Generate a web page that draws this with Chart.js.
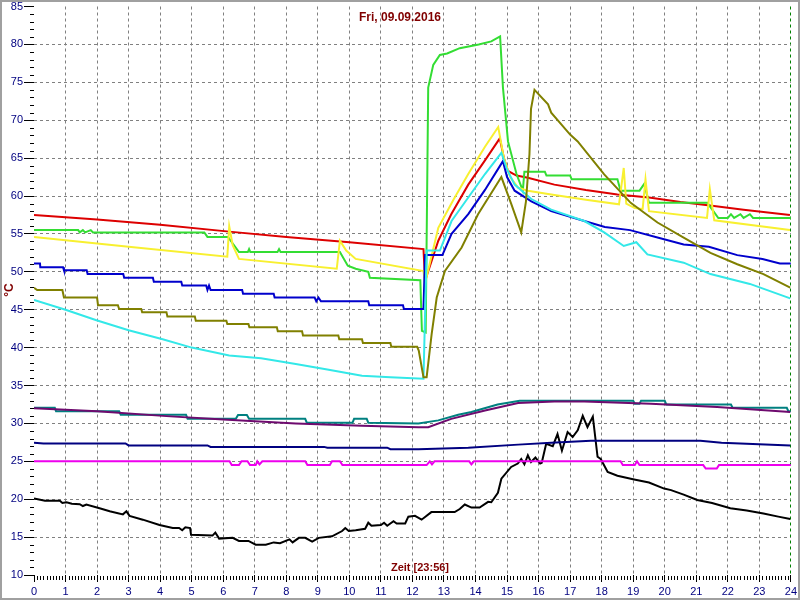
<!DOCTYPE html>
<html>
<head>
<meta charset="utf-8">
<script src="https://cdn.jsdelivr.net/npm/chart.js@4"></script>
<style>
  body { margin: 0; background: #fff; }
  #tempChart { display: block; }
</style>
</head>
<body>
<canvas id="tempChart" width="800" height="600"></canvas>
<script>
// Fri, 09.09.2016 - temperatures over the day, [hour, °C]
const hours = [0, 1, 2, 3, 4, 5, 6, 7, 8, 9, 10, 11, 12, 13, 14, 15, 16, 17, 18, 19, 20, 21, 22, 23, 24];
const yTicks = [10, 15, 20, 25, 30, 35, 40, 45, 50, 55, 60, 65, 70, 75, 80, 85];

const red = [[0,57.5],[2,56.9],[4,56.2],[6.19,55.3],[8,54.6],[10,53.9],[12.35,53.0],[12.4,48.8],[12.82,54.1],[13.23,57.6],[13.77,61.5],[14.3,64.7],[14.77,67.6],[14.9,65],[15.03,63.3],[15.3,62.7],[15.66,62.4],[16.5,61.5],[17.5,60.8],[18.5,60.2],[19.5,59.8],[20.5,59.2],[21.5,58.7],[22.5,58.2],[23.97,57.5]];

const green = [[0,55.5],[1.4,55.5],[1.45,55.2],[1.55,55.5],[1.62,55.2],[1.8,55.5],[1.87,55.2],[5.4,55.2],[5.5,54.6],[6.15,54.6],[6.5,52.6],[6.78,52.6],[6.82,53.0],[6.86,52.6],[7.72,52.6],[7.77,53.0],[7.82,52.6],[9.7,52.6],[9.95,50.8],[10.2,50.4],[10.6,50.0],[10.65,49.2],[12.25,48.9],[12.3,42.2],[12.42,42.0],[12.5,74.3],[12.66,77.3],[12.87,78.6],[13.1,78.8],[13.5,79.5],[14.1,80.0],[14.5,80.4],[14.78,81.05],[14.87,74.3],[15.03,67.2],[15.3,62.9],[15.5,60.7],[15.55,63.2],[16.2,63.2],[16.25,62.7],[17.0,62.7],[17.05,62.2],[18.5,62.2],[18.6,60.7],[19.2,60.7],[19.35,61.6],[19.5,59.1],[21.35,59.1],[21.7,57.1],[22.0,57.1],[22.1,57.6],[22.2,57.1],[22.4,57.6],[22.5,57.1],[22.7,57.6],[22.8,57.1],[24,57.1]];

const yellow = [[0,54.6],[3,53.3],[6.13,52.0],[6.19,56.0],[6.3,53.5],[6.5,51.7],[9.6,50.4],[9.7,54.1],[9.9,52.8],[10.2,51.7],[12.35,50.1],[12.4,48.5],[12.82,55.8],[13.3,59.5],[13.77,62.9],[14.3,66.5],[14.72,69.1],[14.9,65],[15.1,62.5],[15.35,61.1],[15.66,60.7],[16.4,60.2],[17.5,59.5],[18.55,58.9],[18.7,63.7],[18.78,59],[19.05,58.4],[19.3,58.3],[19.39,62.2],[19.5,58.0],[21.34,57.1],[21.43,60.9],[21.57,56.8],[23.97,55.5]];

const blue = [[0,51.1],[0.19,51.1],[0.2,50.6],[0.92,50.6],[0.95,50.2],[1.67,50.2],[1.7,49.7],[2.83,49.7],[2.86,49.2],[3.77,49.2],[3.8,48.7],[4.67,48.7],[4.7,48.2],[5.46,48.2],[5.5,47.6],[5.55,48.2],[5.6,47.6],[6.6,47.6],[6.63,47.1],[7.6,47.1],[7.63,46.6],[8.9,46.6],[8.95,46.1],[9.02,46.6],[9.1,46.1],[10.6,46.1],[10.63,45.6],[11.7,45.6],[11.73,45.1],[12.35,45.1],[12.4,52.2],[12.95,52.2],[13.24,55.0],[13.77,57.6],[14.3,60.8],[14.87,64.6],[15.0,62.5],[15.24,60.7],[15.77,59.3],[16.4,58.0],[17.45,56.7],[18.1,55.9],[18.9,55.5],[19.8,54.5],[20.6,53.6],[21.4,53.3],[22.3,52.2],[23.1,51.7],[23.65,51.1],[24,51.1]];

const cyan = [[0,46.3],[1,45],[1.98,43.6],[3,42.3],[4.08,41.1],[5,40],[6.19,38.95],[7.2,38.6],[8.3,37.85],[9.3,37.1],[10.4,36.3],[11.3,36.1],[12.35,35.9],[12.45,52.8],[12.87,52.8],[13.24,56.7],[13.77,59.8],[14.3,62.9],[14.82,65.7],[15.0,63.5],[15.24,61.5],[15.77,59.6],[16.4,58.2],[17.45,56.7],[18.08,55.2],[18.7,53.4],[19.1,53.9],[19.45,52.3],[20.6,51.2],[21.45,49.7],[22.7,48.4],[23.98,46.5]];

const olive = [[0,47.9],[0.1,47.6],[0.9,47.6],[0.95,46.6],[2.0,46.6],[2.03,45.6],[2.66,45.6],[2.7,45.1],[3.4,45.1],[3.43,44.65],[4.2,44.65],[4.23,44.1],[5.1,44.1],[5.13,43.55],[6.1,43.55],[6.13,43.1],[6.8,43.1],[6.83,42.7],[7.7,42.7],[7.73,42.15],[8.5,42.15],[8.53,41.6],[9.65,41.6],[9.68,41.1],[10.4,41.1],[10.43,40.6],[11.3,40.6],[11.33,40.1],[12.15,40.1],[12.2,39.6],[12.35,36.1],[12.45,36.1],[12.61,41.8],[12.77,46.6],[13.03,50.1],[13.56,53.2],[14.08,57.6],[14.82,62.5],[15.13,59.0],[15.45,55.2],[15.6,59.3],[15.71,65.5],[15.76,71.5],[15.87,74.0],[16.3,72.1],[16.4,71.0],[17.0,68.1],[17.24,67.2],[18.08,62.85],[18.92,59.1],[19.77,56.5],[20.6,54.5],[21.45,52.5],[22.3,51.0],[23.13,49.7],[23.98,47.9]];

const teal = [[0,32.06],[0.66,32.06],[0.7,31.6],[2.7,31.6],[2.75,31.15],[4.82,31.15],[4.87,30.6],[6.4,30.6],[6.47,31.1],[6.75,31.1],[6.82,30.6],[8.6,30.6],[8.65,30.1],[10.1,30.1],[10.15,30.6],[10.55,30.6],[10.6,30.1],[12.19,30.0],[12.82,30.4],[13.45,31.15],[13.87,31.5],[14.7,32.5],[15.4,33.0],[19.0,33.0],[19.05,32.6],[19.2,32.6],[19.25,33.0],[20.0,33.0],[20.05,32.5],[22.1,32.5],[22.15,32.06],[23.87,32.06],[23.92,31.6],[24,31.6]];

const purple = [[0,32.0],[1,31.8],[2,31.6],[4.2,30.96],[6,30.5],[8.3,30.0],[10.4,29.7],[12.19,29.5],[12.5,29.5],[13.23,30.6],[14.3,31.7],[15.35,32.7],[16.5,32.9],[17.45,32.9],[19.56,32.6],[21.66,32.15],[23.98,31.5]];

const navy = [[0,27.45],[0.3,27.35],[2.9,27.35],[3,27.1],[5.5,27.1],[5.6,26.9],[9.2,26.9],[9.3,26.8],[11.2,26.8],[11.3,26.6],[12.19,26.6],[13.77,26.8],[15.35,27.2],[16.4,27.45],[17.66,27.7],[21.13,27.7],[21.8,27.45],[23.98,27.1]];

const magenta = [[0,25],[6.2,25],[6.27,24.5],[6.5,24.5],[6.58,25],[6.77,25],[6.85,24.5],[7.03,24.5],[7.08,25],[7.15,24.6],[7.24,25],[8.6,25],[8.67,24.5],[9.38,24.5],[9.45,25],[9.7,25],[9.78,24.5],[12.45,24.5],[12.55,25],[12.62,24.6],[12.7,25],[13.8,25],[13.87,24.6],[13.95,25],[18.6,25],[18.67,24.5],[19.05,24.5],[19.12,25],[19.2,24.5],[21.22,24.5],[21.3,24.05],[21.65,24.05],[21.72,24.5],[24,24.5]];

const black = [[0,20.1],[0.35,19.8],[0.82,19.8],[0.9,19.5],[1.03,19.6],[1.2,19.4],[1.45,19.35],[1.55,19.1],[1.66,19.3],[2.08,18.8],[2.4,18.4],[2.82,18.0],[2.93,18.4],[3.03,17.8],[3.45,17.3],[3.98,16.6],[4.4,16.2],[4.6,16.2],[4.7,15.9],[4.8,16.3],[4.95,16.2],[4.98,15.3],[5.66,15.2],[5.75,15.6],[5.87,14.8],[6.3,14.9],[6.5,14.5],[6.8,14.5],[7.03,14.0],[7.35,14.0],[7.6,14.3],[7.8,14.2],[8.1,14.7],[8.2,14.3],[8.4,14.9],[8.6,14.9],[8.82,14.4],[9.03,14.9],[9.45,15.1],[9.77,15.8],[9.87,16.2],[9.98,15.8],[10.2,15.9],[10.5,16.1],[10.6,16.9],[10.7,16.5],[11.0,16.6],[11.1,16.9],[11.2,16.5],[11.4,17.1],[11.5,16.8],[11.77,16.8],[11.87,17.7],[12.08,17.8],[12.29,17.3],[12.6,18.3],[13.34,18.3],[13.5,18.7],[13.66,19.3],[13.87,18.9],[14.13,18.9],[14.4,19.65],[14.5,19.6],[14.71,20.85],[14.82,22.7],[15.13,24.25],[15.34,24.7],[15.45,25.3],[15.55,24.6],[15.66,25.8],[15.76,24.9],[15.9,25.5],[16.05,24.7],[16.1,24.8],[16.24,27.3],[16.45,27.0],[16.6,28.6],[16.74,26.4],[16.92,28.86],[17.08,28.2],[17.24,29.1],[17.4,31.0],[17.55,29.5],[17.72,30.9],[17.87,25.6],[17.97,25.3],[18.19,23.6],[18.5,23.1],[19.03,22.6],[19.5,22.2],[19.98,21.4],[20.2,21.2],[20.6,20.6],[21.03,19.9],[21.5,19.5],[22.08,18.8],[22.6,18.5],[23.13,18.1],[23.6,17.7],[23.98,17.4]];

const darkRed = '#800000';
const navyText = '#000080';

function line(data, color) {
  return { data: data, borderColor: color, borderWidth: 2, pointRadius: 0, tension: 0, fill: false };
}

// frame, title, axis captions and the small ticks between the labelled ones
const extras = {
  id: 'extras',
  beforeDraw(chart) {
    const c = chart.ctx;
    c.save();
    c.fillStyle = '#fff';
    c.fillRect(0, 0, chart.width, chart.height);
    c.restore();
  },
  afterDraw(chart) {
    const c = chart.ctx;
    const x = chart.scales.x, y = chart.scales.y;
    const a = chart.chartArea;
    c.save();
    c.strokeStyle = '#000';
    c.lineWidth = 1;
    c.beginPath();
    for (let v = y.min + 1; v < y.max; v++) {
      if (v % 5 === 0) continue;
      const py = Math.round(y.getPixelForValue(v)) + 0.5;
      c.moveTo(a.left - 4, py);
      c.lineTo(a.left, py);
    }
    for (let i = 1; i < hours.length * 10 - 10; i++) {
      if (i % 10 === 0) continue;
      const px = Math.round(x.getPixelForValue(i / 10)) + 0.5;
      c.moveTo(px, a.bottom + 1);
      c.lineTo(px, a.bottom + 5);
    }
    c.stroke();

    c.fillStyle = darkRed;
    c.font = 'bold 12px Arial, "Liberation Sans", sans-serif';
    c.textAlign = 'center';
    c.textBaseline = 'middle';
    c.fillText('Fri, 09.09.2016', 400, 18);
    c.font = 'bold 11px Arial, "Liberation Sans", sans-serif';
    c.fillText('Zeit [23:56]', 420, 568);
    c.translate(10, 290);
    c.rotate(-Math.PI / 2);
    c.font = 'bold 12px Arial, "Liberation Sans", sans-serif';
    c.fillText('°C', 0, 0);
    c.restore();

    c.save();
    c.strokeStyle = '#a0a0a0';
    c.lineWidth = 2;
    c.strokeRect(1, 1, chart.width - 2, chart.height - 2);
    c.restore();
  }
};

const temp = document.getElementById('tempChart');

new Chart(temp, {
  type: 'line',
  data: {
    datasets: [
      line(purple, '#6e0a6e'),
      line(teal, '#008080'),
      line(navy, '#000080'),
      line(magenta, '#ee00ee'),
      line(olive, '#808000'),
      line(cyan, '#33e8e8'),
      line(blue, '#0000cc'),
      line(yellow, '#f8f030'),
      line(green, '#33dd33'),
      line(red, '#dd0000'),
      line(black, '#000000')
    ]
  },
  options: {
    responsive: false,
    animation: false,
    devicePixelRatio: 1,
    layout: { padding: { left: 0, right: 6, top: 5, bottom: 0 } },
    plugins: { legend: { display: false }, tooltip: { enabled: false } },
    scales: {
      x: {
        type: 'linear',
        min: hours[0],
        max: hours[hours.length - 1],
        afterFit: s => { s.height = 25; },
        afterBuildTicks: s => { s.ticks = hours.map(v => ({ value: v })); },
        border: { display: false, dash: [3, 3] },
        grid: {
          color: ctx => ctx.tick.value === 0 ? 'rgba(0,0,0,0)' : (ctx.tick.value === 24 ? '#008000' : '#808080'),
          tickColor: '#000',
          tickLength: 7,
          tickBorderDash: []
        },
        ticks: { color: navyText, padding: 3, maxRotation: 0, autoSkip: false, font: { family: 'Arial, "Liberation Sans"', size: 11 } }
      },
      y: {
        min: yTicks[0],
        max: yTicks[yTicks.length - 1],
        afterFit: s => { s.width = 34; },
        afterBuildTicks: s => { s.ticks = yTicks.map(v => ({ value: v })); },
        border: { display: false, dash: [3, 3] },
        grid: {
          color: ctx => (ctx.tick.value === 10 || ctx.tick.value === 85) ? 'rgba(0,0,0,0)' : '#808080',
          tickColor: '#000',
          tickLength: 10,
          tickBorderDash: []
        },
        ticks: { color: navyText, padding: 1, font: { family: 'Arial, "Liberation Sans"', size: 11, lineHeight: 1 } }
      }
    }
  },
  plugins: [extras]
});
</script>
</body>
</html>
